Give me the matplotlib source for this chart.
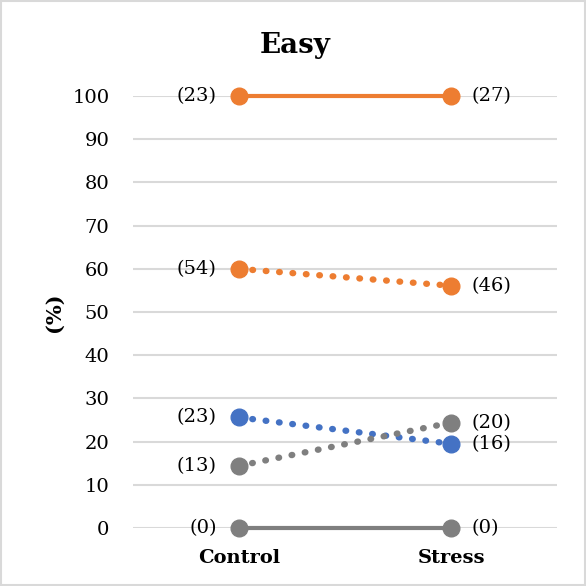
import matplotlib.pyplot as plt
from matplotlib.patches import Rectangle

# dados
grupos = ['Control', 'Stress']
laranja_solido = [100, 100]
laranja_pontos = [60.0, 56.1]
azul_pontos = [25.6, 19.5]
cinza_pontos = [14.4, 24.4]
cinza_solido = [0, 0]

rot_laranja_solido = ['(23)', '(27)']
rot_laranja_pontos = ['(54)', '(46)']
rot_azul_pontos = ['(23)', '(16)']
rot_cinza_pontos = ['(13)', '(20)']
rot_cinza_solido = ['(0)', '(0)']

LARANJA = '#ED7D31'
AZUL = '#4472C4'
CINZA = '#7F7F7F'

plt.rcParams['font.family'] = 'DejaVu Serif'

fig = plt.figure(figsize=(5.86, 5.86), dpi=100)
ax = fig.add_axes([0.227, 0.099, 0.7235, 0.737])

x = [0, 1]
series = [
    (laranja_solido, rot_laranja_solido, LARANJA, '-'),
    (laranja_pontos, rot_laranja_pontos, LARANJA, ':'),
    (azul_pontos, rot_azul_pontos, AZUL, ':'),
    (cinza_pontos, rot_cinza_pontos, CINZA, ':'),
    (cinza_solido, rot_cinza_solido, CINZA, '-'),
]

for vals, rots, cor, estilo in series:
    if estilo == '-':
        ax.plot(x, vals, color=cor, lw=3, solid_capstyle='butt', zorder=3, clip_on=False)
    else:
        ax.plot(x, vals, color=cor, lw=4.6, linestyle=(0, (0.1, 2.0)),
                dash_capstyle='round', zorder=3, clip_on=False)
    ax.plot(x, vals, 'o', color=cor, ms=12, zorder=4, clip_on=False)
    ax.annotate(rots[0], (x[0], vals[0]), xytext=(-16, 0), textcoords='offset points',
                ha='right', va='center', fontsize=14)
    ax.annotate(rots[1], (x[1], vals[1]), xytext=(15, 0), textcoords='offset points',
                ha='left', va='center', fontsize=14)

ax.set_xlim(-0.5, 1.5)
ax.set_ylim(0, 100)
ax.set_yticks(range(0, 101, 10))
ax.set_xticks(x)
ax.set_xticklabels(grupos, fontsize=16, fontweight='bold')
ax.tick_params(axis='both', length=0, labelsize=14)
ax.tick_params(axis='y', pad=17)
ax.tick_params(axis='x', pad=15)
ax.grid(axis='y', color='#D9D9D9', lw=1.5)
ax.set_axisbelow(True)
for s in ax.spines.values():
    s.set_visible(False)

ax.set_ylabel('(%)', fontsize=15, fontweight='bold', labelpad=6)
fig.text(0.503, 0.922, 'Easy', fontsize=20, fontweight='bold', ha='center', va='center')

# borda do gráfico
fig.patches.append(Rectangle((0.002, 0.002), 0.996, 0.996, transform=fig.transFigure,
                             fill=False, edgecolor='#D9D9D9', lw=1.5))

fig.savefig('out.png', dpi=100)
